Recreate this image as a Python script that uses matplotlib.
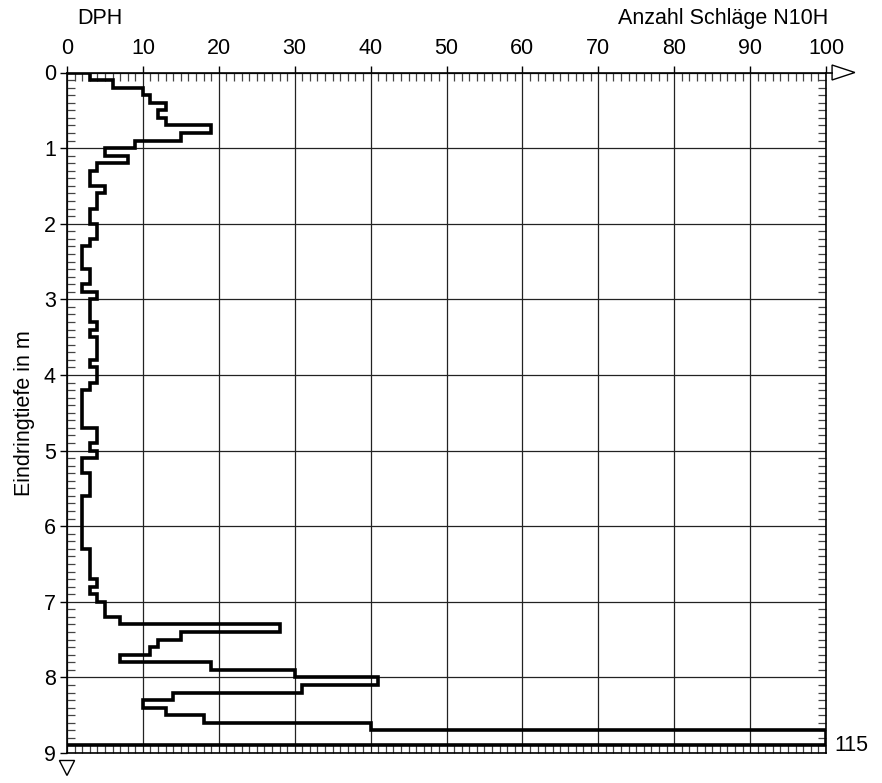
import numpy as np
import matplotlib.pyplot as plt
from matplotlib.patches import Polygon
from matplotlib.ticker import MultipleLocator

plt.rcParams['font.family'] = ['Liberation Sans', 'DejaVu Sans']

# blow counts N10 per 0.1 m, from 0.0 m down to 8.9 m
n10 = [3, 6, 10, 11, 13, 12, 13, 19, 15, 9,
       5, 8, 4, 3, 3, 5, 4, 4, 3, 3,
       4, 4, 3, 2, 2, 2, 3, 3, 2, 4,
       3, 3, 3, 4, 3, 4, 4, 4, 3, 4,
       4, 3, 2, 2, 2, 2, 2, 4, 4, 3,
       4, 2, 2, 3, 3, 3, 2, 2, 2, 2,
       2, 2, 2, 3, 3, 3, 3, 4, 3, 4,
       5, 5, 7, 28, 15, 12, 11, 7, 19, 30,
       41, 31, 14, 10, 13, 18, 40, 115, 115]
step = 0.1
x_max = 100
depth_max = 9
max_label = "115"
fs = 15.5

vals = np.minimum(np.array(n10, dtype=float), x_max)
tops = np.arange(len(vals)) * step
bots = tops + step
xs = np.concatenate([[0], np.repeat(vals, 2), [0]])
ys = np.concatenate([[0], np.ravel(np.column_stack([tops, bots])), [bots[-1]]])

fig = plt.figure(figsize=(8.82, 7.83), dpi=100)
ax = fig.add_axes([67 / 882, 1 - 753 / 783, 759 / 882, 680.5 / 783])

ax.plot(xs, ys, color='black', lw=2.6, solid_joinstyle='miter', zorder=3)

ax.set_xlim(0, x_max)
ax.set_ylim(depth_max, 0)
ax.xaxis.set_major_locator(MultipleLocator(10))
ax.xaxis.set_minor_locator(MultipleLocator(1))
ax.yaxis.set_major_locator(MultipleLocator(1))
ax.yaxis.set_minor_locator(MultipleLocator(0.1))
ax.xaxis.tick_top()
ax.grid(True, which='major', color='#222222', lw=0.9)

ax.tick_params(axis='x', which='major', top=True, bottom=False, labeltop=True,
               labelbottom=False, direction='out', length=5, width=1, pad=5, labelsize=fs)
ax.tick_params(axis='x', which='minor', top=True, bottom=True, direction='in',
               length=6, width=0.9, color='#444444')
ax.tick_params(axis='y', which='major', left=True, right=False, direction='out',
               length=5, width=1, pad=3, labelsize=fs)
ax.tick_params(axis='y', which='minor', left=True, right=True, direction='in',
               length=6, width=0.9, color='#444444')
for s in ax.spines.values():
    s.set_linewidth(1.2)

ax.set_ylabel('Eindringtiefe in m', fontsize=fs, labelpad=6)
ax.text(0.043, 1.08, 'DPH', transform=ax.transAxes, ha='center', va='center', fontsize=fs)
ax.text(1.003, 1.08, 'Anzahl Schläge N10H', transform=ax.transAxes, ha='right',
        va='center', fontsize=fs)
ax.annotate(max_label, xy=(x_max, bots[-1]), xytext=(6, 0), textcoords='offset points',
            ha='left', va='center', fontsize=fs, annotation_clip=False)

# axis arrows
ax.plot([1.0, 1.008], [1.0, 1.0], transform=ax.transAxes, color='black', lw=1.2, clip_on=False)
ax.add_patch(Polygon([[1.008, 1.011], [1.038, 1.0], [1.008, 0.989]], closed=True,
                     facecolor='white', edgecolor='black', lw=1,
                     transform=ax.transAxes, clip_on=False))
ax.add_patch(Polygon([[-0.01, -0.011], [0.01, -0.011], [0.0, -0.033]], closed=True,
                     facecolor='white', edgecolor='black', lw=1,
                     transform=ax.transAxes, clip_on=False))

fig.savefig('out.png', dpi=100)
